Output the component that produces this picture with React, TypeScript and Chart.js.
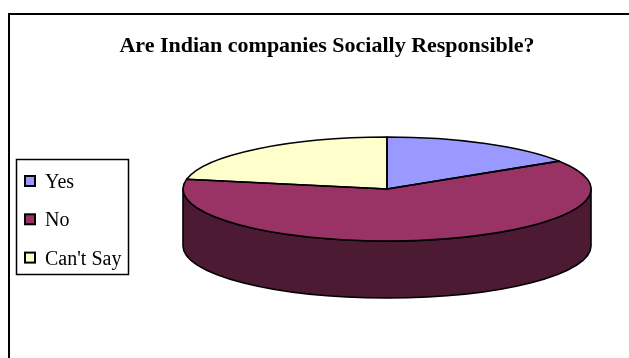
import React, { useEffect, useRef } from "react";
import { Chart, registerables } from "chart.js";

Chart.register(...registerables);

const TITLE = "Are Indian companies Socially Responsible?";
const categories = ["Yes", "No", "Can't Say"];
const values = [16, 62, 22];
const topColors = ["#9999FF", "#993366", "#FFFFCC"];
const sideColors = ["#4C4C80", "#4C1A33", "#808066"];

const pie3d = {
  id: "pie3d",
  beforeDatasetsDraw(chart: any, _args: any, opts: any) {
    const ctx = chart.ctx;
    const meta = chart.getDatasetMeta(0);
    const area = chart.chartArea;
    const p0 = meta.data[0].getProps(["x", "y", "outerRadius"], true);
    const cx = p0.x, cy = p0.y, R = p0.outerRadius;
    const sx = area.width / 2 / R;
    const rx = R * sx, ry = R;
    const depth = opts.depth || 50;
    ctx.save();
    ctx.lineWidth = 1.6;
    ctx.strokeStyle = "#000";
    ctx.lineJoin = "round";
    meta.data.forEach((el: any, i: number) => {
      const p = el.getProps(["startAngle", "endAngle"], true);
      const s = Math.max(p.startAngle, 0);
      const e = Math.min(p.endAngle, Math.PI);
      if (e <= s) return;
      ctx.beginPath();
      ctx.ellipse(cx, cy, rx, ry, 0, s, e, false);
      ctx.lineTo(cx + rx * Math.cos(e), cy + ry * Math.sin(e) + depth);
      ctx.ellipse(cx, cy + depth, rx, ry, 0, e, s, true);
      ctx.closePath();
      ctx.fillStyle = sideColors[i];
      ctx.fill();
      ctx.stroke();
    });
    ctx.restore();
    ctx.save();
    ctx.translate(cx, cy);
    ctx.scale(sx, 1);
    ctx.translate(-cx, -cy);
  },
  afterDatasetsDraw(chart: any) {
    const ctx = chart.ctx;
    ctx.restore();
    const meta = chart.getDatasetMeta(0);
    const area = chart.chartArea;
    const p0 = meta.data[0].getProps(["x", "y", "outerRadius"], true);
    const cx = p0.x, cy = p0.y, R = p0.outerRadius;
    const sx = area.width / 2 / R;
    const rx = R * sx, ry = R;
    ctx.save();
    ctx.lineWidth = 1.6;
    ctx.strokeStyle = "#000";
    ctx.lineJoin = "round";
    meta.data.forEach((el: any) => {
      const p = el.getProps(["startAngle", "endAngle"], true);
      ctx.beginPath();
      ctx.moveTo(cx, cy);
      ctx.ellipse(cx, cy, rx, ry, 0, p.startAngle, p.endAngle, false);
      ctx.closePath();
      ctx.stroke();
    });
    ctx.restore();
  },
};

const decor = {
  id: "decor",
  afterDraw(chart: any) {
    const ctx = chart.ctx;
    ctx.save();
    // outer frame
    ctx.strokeStyle = "#000";
    ctx.lineWidth = 2;
    ctx.beginPath();
    ctx.moveTo(9, 400);
    ctx.lineTo(9, 14);
    ctx.lineTo(700, 14);
    ctx.stroke();
    // title
    ctx.fillStyle = "#000";
    ctx.font = 'bold 22px "Liberation Serif"';
    ctx.textAlign = "center";
    ctx.textBaseline = "alphabetic";
    ctx.fillText(TITLE, 327, 52);
    // legend
    ctx.lineWidth = 1.5;
    ctx.strokeRect(16.5, 159.5, 112, 115);
    const labels: string[] = chart.data.labels;
    const colors: string[] = chart.data.datasets[0].backgroundColor;
    ctx.font = '20px "Liberation Serif"';
    ctx.textAlign = "left";
    labels.forEach((lab, i) => {
      const yc = 181 + i * 38.3;
      ctx.fillStyle = colors[i];
      ctx.fillRect(25, yc - 5, 10, 10);
      ctx.lineWidth = 2;
      ctx.strokeRect(25, yc - 5, 10, 10);
      ctx.fillStyle = "#000";
      ctx.fillText(lab, 45, yc + 7);
    });
    ctx.restore();
  },
};

export default function App() {
  const ref = useRef<HTMLCanvasElement>(null);
  useEffect(() => {
    if (!ref.current) return;
    const chart = new Chart(ref.current, {
      type: "pie",
      data: {
        labels: categories,
        datasets: [
          {
            data: values,
            backgroundColor: topColors,
            borderWidth: 0,
            clip: false,
          } as any,
        ],
      },
      options: {
        responsive: false,
        animation: false,
        events: [],
        layout: { padding: { left: 183, right: 38, top: 137, bottom: 117 } },
        plugins: {
          legend: { display: false },
          title: { display: false },
          tooltip: { enabled: false },
          pie3d: { depth: 57 },
        } as any,
      },
      plugins: [pie3d, decor],
    });
    return () => chart.destroy();
  }, []);
  return (
    <div style={{ position: "fixed", left: 0, top: 0, width: 629, height: 358, background: "#fff" }}>
      <canvas ref={ref} width={629} height={358} style={{ display: "block" }} />
    </div>
  );
}
